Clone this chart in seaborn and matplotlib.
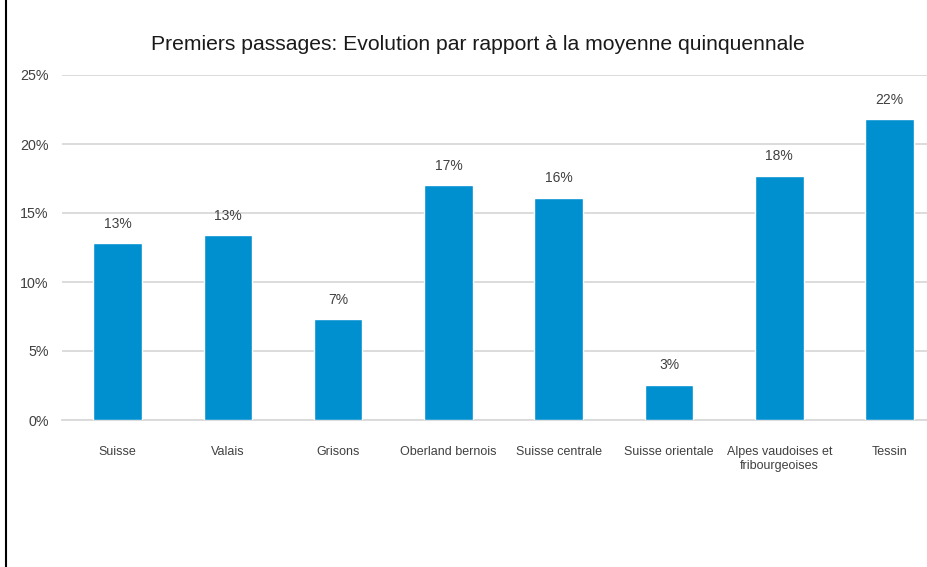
import matplotlib
matplotlib.use("Agg")
import matplotlib.pyplot as plt
from matplotlib.lines import Line2D
import seaborn as sns
import pandas as pd

# Regions and change of first passages versus the five-year average (%)
regions = [
    "Suisse",
    "Valais",
    "Grisons",
    "Oberland bernois",
    "Suisse centrale",
    "Suisse orientale",
    "Alpes vaudoises et\nfribourgeoises",
    "Tessin",
]
evolution_pct = [12.8, 13.4, 7.3, 17.0, 16.1, 2.55, 17.7, 21.8]
y_ticks = [0, 5, 10, 15, 20, 25]

title = "Premiers passages: Evolution par rapport à la moyenne quinquennale"

sns.set_theme(style="white")
plt.rcParams["font.family"] = ["Liberation Sans", "DejaVu Sans"]

df = pd.DataFrame({"region": regions, "evolution": evolution_pct})

W, H = 928, 567
fig = plt.figure(figsize=(W / 100, H / 100), dpi=100)
fig.patch.set_facecolor("white")

left, right = 62.4, 62.4 + 8 * 110.3
top, bottom = 75, 420
ax = fig.add_axes([left / W, 1 - bottom / H, (right - left) / W, (bottom - top) / H])

bar_color = "#0090D0"
text_color = "#404040"
grid_color = "#D9D9D9"

sns.barplot(data=df, x="region", y="evolution", color=bar_color, width=0.44,
            saturation=1, ax=ax, zorder=3)

ax.set_xlim(-0.5, len(regions) - 0.5)
ax.set_ylim(0, 25)
ax.set_yticks(y_ticks)
ax.set_yticklabels([f"{t}%" for t in y_ticks], fontsize=10.3, color=text_color)
ax.tick_params(axis="y", length=0, pad=10)
ax.tick_params(axis="x", length=0, pad=19, labelsize=9, labelcolor=text_color)
ax.set_xlabel("")
ax.set_ylabel("")

ax.yaxis.grid(True, color=grid_color, linewidth=1.3, zorder=0)
ax.set_axisbelow(True)
for side in ["top", "right", "left"]:
    ax.spines[side].set_visible(False)
ax.spines["bottom"].set_color(grid_color)
ax.spines["bottom"].set_linewidth(1.3)

# value labels above each bar
for patch, val in zip(ax.patches, evolution_pct):
    ax.annotate(f"{val:.0f}%",
                (patch.get_x() + patch.get_width() / 2, patch.get_height()),
                xytext=(0, 9), textcoords="offset points",
                ha="center", va="bottom", fontsize=10, color=text_color)

fig.text(478 / W, 1 - 45 / H, title, ha="center", va="center",
         fontsize=15.2, color="#1A1A1A")

# frame line on the left edge
fig.add_artist(Line2D([6.5 / W, 6.5 / W], [0, 1], transform=fig.transFigure,
                      color="black", linewidth=1.5))

fig.savefig("out.png", dpi=100, facecolor="white")
